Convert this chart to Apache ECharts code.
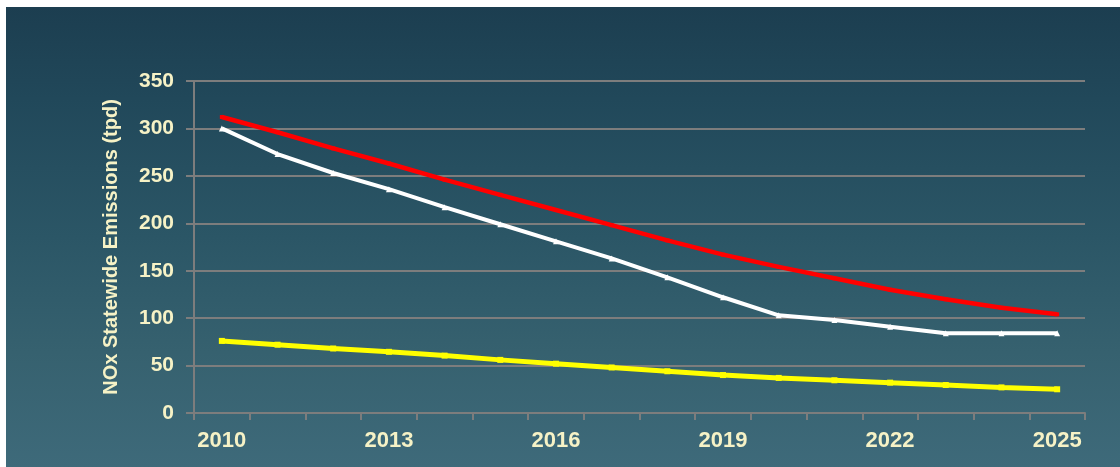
<!DOCTYPE html>
<html>
<head>
<meta charset="utf-8">
<script src="https://cdn.jsdelivr.net/npm/echarts@6/dist/echarts.min.js"></script>
<style>
  html, body { margin: 0; padding: 0; background: #ffffff; }
  #wrap { position: relative; width: 1120px; height: 467px; background: #ffffff; overflow: hidden; }
  #bg { position: absolute; left: 6px; top: 7px; width: 1114px; height: 460px;
        background: linear-gradient(to bottom, #1c3e50 0%, #21485a 20%, #2b5666 50%, #36616f 75%, #3e6a7a 100%); }
  #chart { position: absolute; left: 0; top: 0; width: 1120px; height: 467px; }
</style>
</head>
<body>
<div id="wrap"><div id="bg"></div><div id="chart"></div></div>
<script>
const years = ['2010','2011','2012','2013','2014','2015','2016','2017','2018','2019','2020','2021','2022','2023','2024','2025'];
const redSeries = [312, 296, 279, 263, 246, 230, 214, 198, 182, 167, 154, 142, 130, 120, 111, 104];
const whiteSeries = [300, 273, 253, 236, 217, 199, 181, 163, 143, 122, 103, 98, 91, 84, 84, 84];
const yellowSeries = [76, 72, 68, 64.5, 60.5, 56, 52, 48, 44, 40, 37, 34.5, 32, 29.5, 27, 25];
const yTicks = { min: 0, max: 350, interval: 50 };
const yTitle = 'NOx Statewide Emissions (tpd)';

const labelColor = '#f6f2c6';
const gridColor = '#7d7d7d';
const chart = echarts.init(document.getElementById('chart'), null, { renderer: 'canvas' });
chart.setOption({
  backgroundColor: 'transparent',
  animation: false,
  grid: { left: 194, right: 35, top: 81, bottom: 54, containLabel: false },
  xAxis: {
    type: 'category',
    data: years,
    boundaryGap: true,
    axisLine: { show: true, lineStyle: { color: gridColor, width: 2 } },
    axisTick: { show: true, interval: 0, length: 7, lineStyle: { color: gridColor, width: 2 } },
    axisLabel: { interval: 2, color: labelColor, fontFamily: 'Liberation Sans, Arial, sans-serif',
                 fontWeight: 'bold', fontSize: 22, margin: 17 },
    splitLine: { show: false }
  },
  yAxis: {
    type: 'value',
    min: yTicks.min, max: yTicks.max, interval: yTicks.interval,
    name: yTitle,
    nameLocation: 'middle',
    nameGap: 73,
    nameRotate: 90,
    nameTextStyle: { color: labelColor, fontFamily: 'Liberation Sans, Arial, sans-serif',
                     fontWeight: 'bold', fontSize: 20 },
    axisLine: { show: true, lineStyle: { color: gridColor, width: 2 } },
    axisTick: { show: true, length: 8, lineStyle: { color: gridColor, width: 2 } },
    axisLabel: { color: labelColor, fontFamily: 'Liberation Sans, Arial, sans-serif',
                 fontWeight: 'bold', fontSize: 21, margin: 20 },
    splitLine: { show: true, lineStyle: { color: gridColor, width: 2 } }
  },
  series: [
    { name: 'red', type: 'line', data: redSeries, smooth: false,
      symbol: 'rect', symbolSize: 4, showSymbol: true,
      itemStyle: { color: '#ff0000' },
      lineStyle: { color: '#ff0000', width: 4.5 }, z: 4 },
    { name: 'white', type: 'line', data: whiteSeries, smooth: false,
      symbol: 'triangle', symbolSize: 6, showSymbol: true,
      itemStyle: { color: '#ffffff' },
      lineStyle: { color: '#ffffff', width: 4 }, z: 3 },
    { name: 'yellow', type: 'line', data: yellowSeries, smooth: false,
      symbol: 'rect', symbolSize: 6, showSymbol: true,
      itemStyle: { color: '#ffff00' },
      lineStyle: { color: '#ffff00', width: 5 }, z: 3 }
  ]
});
</script>
</body>
</html>
